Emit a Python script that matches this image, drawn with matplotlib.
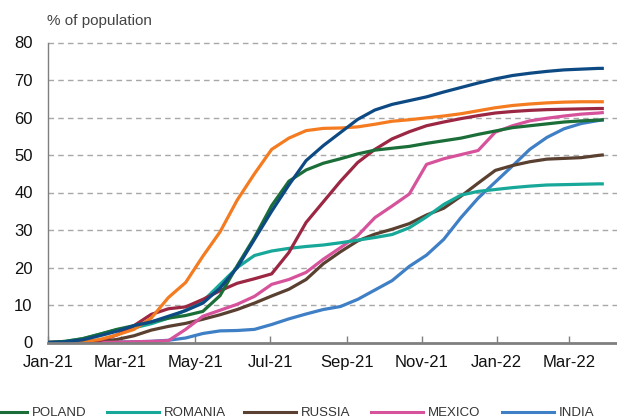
import matplotlib
matplotlib.use("Agg")
import matplotlib.pyplot as plt
from matplotlib.lines import Line2D
import pandas as pd

# ---- data (share of population, %), sampled every 14 days from 1 Jan 2021 + last point ----
dates = list(pd.date_range("2021-01-01", periods=33, freq="14D")) + [pd.Timestamp("2022-03-28")]

navy = [0, 0.2, 0.7, 1.8, 3.0, 4.5, 5.5, 7, 8.5, 10.5, 14.5, 20, 27.5, 35, 42, 48.5, 52.5,
        56, 59.5, 62, 63.5, 64.5, 65.5, 66.8, 68, 69.2, 70.3, 71.2, 71.8, 72.3, 72.7, 72.9, 73.1, 73.1]
orange = [0, 0, 0.2, 0.8, 2.0, 3.5, 6.5, 12, 16, 23, 29.5, 38, 45, 51.5, 54.5, 56.5, 57.1,
          57.2, 57.5, 58.2, 59, 59.4, 59.9, 60.4, 61, 61.8, 62.6, 63.2, 63.6, 63.9, 64.1, 64.2, 64.2, 64.2]
crimson = [0, 0, 0.1, 0.5, 2.0, 4.5, 7.5, 9.0, 9.5, 11.5, 13.8, 15.8, 17, 18.3, 24, 32, 37.5,
           43, 48, 51.5, 54.3, 56.2, 57.8, 58.8, 59.7, 60.5, 61.2, 61.6, 61.9, 62.1, 62.2, 62.3, 62.4, 62.4]
poland = [0, 0.3, 1.0, 2.2, 3.5, 4.5, 5.5, 6.5, 7.2, 8.3, 12.5, 20.5, 28, 36.5, 43, 46, 47.8,
          49, 50.3, 51.3, 51.8, 52.3, 53.1, 53.8, 54.5, 55.5, 56.4, 57.3, 57.8, 58.3, 58.8, 59.1, 59.3, 59.4]
romania = [0, 0.3, 1.0, 2.2, 3.4, 3.9, 5.0, 6.5, 8.6, 11, 15.5, 20, 23.2, 24.4, 25.1, 25.6, 26,
           26.6, 27.3, 28, 28.8, 30.6, 33.5, 36.8, 39.3, 40.3, 40.8, 41.3, 41.7, 42.0, 42.1, 42.2, 42.3, 42.3]
russia = [0, 0, 0.1, 0.3, 0.8, 1.8, 3.3, 4.3, 5.1, 6.2, 7.4, 8.8, 10.5, 12.4, 14.2, 16.8, 21,
          24.2, 27.1, 28.9, 30.2, 31.7, 34, 35.8, 39, 42.5, 45.9, 47.2, 48.2, 48.9, 49.1, 49.3, 49.9, 50]
mexico = [0, 0, 0, 0, 0.1, 0.2, 0.3, 0.5, 3.5, 7.0, 8.6, 10.2, 12.3, 15.5, 16.8, 18.7, 22.2,
          25.3, 28.5, 33.3, 36.4, 39.6, 47.5, 49, 50.1, 51.2, 56.1, 57.8, 59.1, 59.8, 60.4, 60.9, 61.2, 61.3]
india = [0, 0, 0, 0, 0.1, 0.2, 0.3, 0.6, 1.2, 2.4, 3.1, 3.2, 3.5, 4.8, 6.3, 7.6, 8.8,
         9.6, 11.5, 14, 16.5, 20.3, 23.3, 27.5, 33.3, 38.5, 42.8, 47.1, 51.5, 54.7, 57, 58.4, 59.2, 59.3]

legend_names = ["POLAND", "ROMANIA", "RUSSIA", "MEXICO", "INDIA"]
tick_labels = ["Jan-21", "Mar-21", "May-21", "Jul-21", "Sep-21", "Nov-21", "Jan-22", "Mar-22"]
y_ticks = [0, 10, 20, 30, 40, 50, 60, 70, 80]

C_NAVY = "#0d4a84"
C_ORANGE = "#f47b20"
C_CRIMSON = "#9b2743"
C_POLAND = "#1b6e37"
C_ROMANIA = "#17a89a"
C_RUSSIA = "#5a4030"
C_MEXICO = "#d6539c"
C_INDIA = "#3f7fc5"

plt.rcParams["font.family"] = ["Liberation Sans", "DejaVu Sans"]

fig = plt.figure(figsize=(6.17, 4.18), dpi=100)
ax = fig.add_axes([48 / 617, (418 - 342.5) / 418, 1 - 48 / 617, 300 / 418])

lw = 2.3
series = [
    (india, C_INDIA), (russia, C_RUSSIA), (mexico, C_MEXICO), (romania, C_ROMANIA),
    (crimson, C_CRIMSON), (poland, C_POLAND), (orange, C_ORANGE), (navy, C_NAVY),
]
for vals, col in series:
    ax.plot(dates, vals, color=col, lw=lw, solid_joinstyle="round", zorder=3)

ax.set_ylim(0, 80)
ax.set_yticks(y_ticks)
ax.set_xlim(pd.Timestamp("2021-01-01"), pd.Timestamp("2022-04-09"))

tick_dates = pd.date_range("2021-01-01", periods=len(tick_labels), freq="2MS")
ax.set_xticks(tick_dates)
ax.set_xticklabels(tick_labels)

for v in y_ticks[1:]:
    ax.axhline(v, color="#a8a8a8", lw=1.0, ls=(0, (4, 3)), zorder=1, clip_on=False)

for s in ["top", "right"]:
    ax.spines[s].set_visible(False)
ax.spines["left"].set_color("#7f7f7f")
ax.spines["left"].set_linewidth(1.0)
ax.spines["bottom"].set_color("#7f7f7f")
ax.spines["bottom"].set_linewidth(2.0)
ax.spines["bottom"].set_zorder(4)

ax.tick_params(axis="y", length=0, pad=11, labelsize=12, labelcolor="#111111")
ax.tick_params(axis="x", direction="in", length=5, width=1, color="#7f7f7f",
               pad=9, labelsize=12, labelcolor="#111111")

fig.text(47 / 617, 1 - 21 / 418, "% of population", fontsize=11, color="#444444",
         ha="left", va="center")

# legend (first row along the bottom edge)
leg_cols = [C_POLAND, C_ROMANIA, C_RUSSIA, C_MEXICO, C_INDIA]
leg_x = [-25, 107, 244, 371, 502]
ly = 418 - 411.5
for name, col, x0 in zip(legend_names, leg_cols, leg_x):
    fig.add_artist(Line2D([x0 / 617, (x0 + 52) / 617], [ly / 418, ly / 418],
                          color=col, lw=2.2, transform=fig.transFigure))
    fig.text((x0 + 57) / 617, (418 - 415.5) / 418, name, fontsize=9.5,
             color="#333333", ha="left", va="baseline")

fig.savefig("out.png", dpi=100)
